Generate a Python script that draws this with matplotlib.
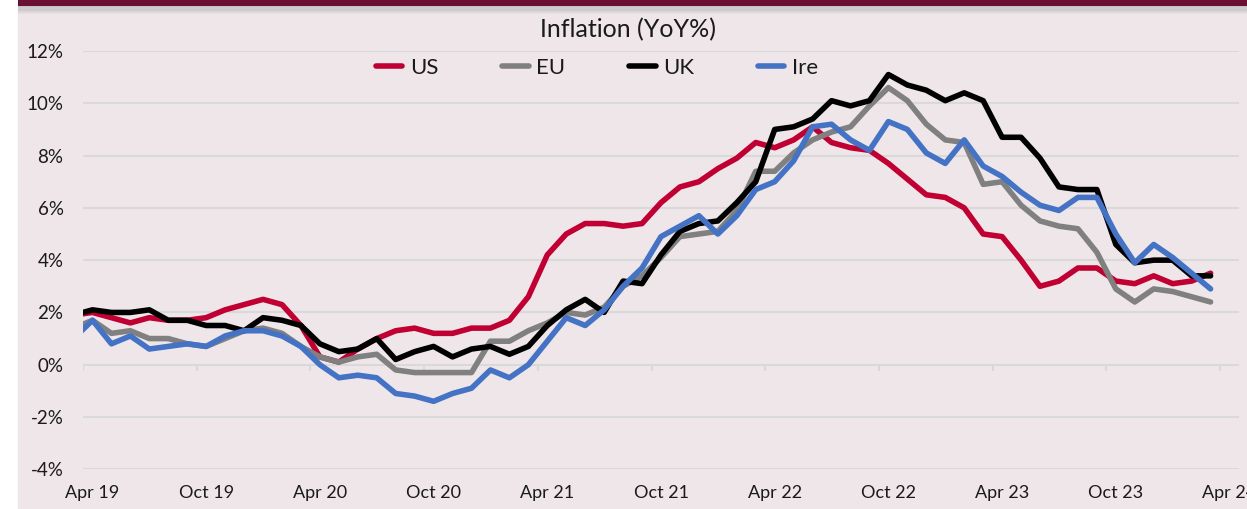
import numpy as np
import pandas as pd
import matplotlib
matplotlib.use("Agg")
import matplotlib.pyplot as plt
from matplotlib.patches import Rectangle
from matplotlib.ticker import FuncFormatter

plt.rcParams['font.family'] = ['Lato', 'DejaVu Sans']

# ---------------- data ----------------
months = pd.period_range('2019-03', '2024-03', freq='M')

us = [1.9, 2.0, 1.8, 1.6, 1.8, 1.7, 1.7, 1.8, 2.1, 2.3,
      2.5, 2.3, 1.5, 0.3, 0.1, 0.6, 1.0, 1.3, 1.4, 1.2, 1.2, 1.4,
      1.4, 1.7, 2.6, 4.2, 5.0, 5.4, 5.4, 5.3, 5.4, 6.2, 6.8, 7.0,
      7.5, 7.9, 8.5, 8.3, 8.6, 9.1, 8.5, 8.3, 8.2, 7.7, 7.1, 6.5,
      6.4, 6.0, 5.0, 4.9, 4.0, 3.0, 3.2, 3.7, 3.7, 3.2, 3.1, 3.4,
      3.1, 3.2, 3.5]

eu = [1.4, 1.7, 1.2, 1.3, 1.0, 1.0, 0.8, 0.7, 1.0, 1.3,
      1.4, 1.2, 0.7, 0.3, 0.1, 0.3, 0.4, -0.2, -0.3, -0.3, -0.3, -0.3,
      0.9, 0.9, 1.3, 1.6, 2.0, 1.9, 2.2, 3.0, 3.4, 4.1, 4.9, 5.0,
      5.1, 5.9, 7.4, 7.4, 8.1, 8.6, 8.9, 9.1, 9.9, 10.6, 10.1, 9.2,
      8.6, 8.5, 6.9, 7.0, 6.1, 5.5, 5.3, 5.2, 4.3, 2.9, 2.4, 2.9,
      2.8, 2.6, 2.4]

uk = [1.9, 2.1, 2.0, 2.0, 2.1, 1.7, 1.7, 1.5, 1.5, 1.3,
      1.8, 1.7, 1.5, 0.8, 0.5, 0.6, 1.0, 0.2, 0.5, 0.7, 0.3, 0.6,
      0.7, 0.4, 0.7, 1.5, 2.1, 2.5, 2.0, 3.2, 3.1, 4.2, 5.1, 5.4,
      5.5, 6.2, 7.0, 9.0, 9.1, 9.4, 10.1, 9.9, 10.1, 11.1, 10.7, 10.5,
      10.1, 10.4, 10.1, 8.7, 8.7, 7.9, 6.8, 6.7, 6.7, 4.6, 3.9, 4.0,
      4.0, 3.4, 3.4]

ire = [1.0, 1.7, 0.8, 1.1, 0.6, 0.7, 0.8, 0.7, 1.1, 1.3,
       1.3, 1.1, 0.7, 0.0, -0.5, -0.4, -0.5, -1.1, -1.2, -1.4, -1.1, -0.9,
       -0.2, -0.5, 0.0, 0.9, 1.8, 1.5, 2.1, 3.0, 3.7, 4.9, 5.3, 5.7,
       5.0, 5.7, 6.7, 7.0, 7.8, 9.1, 9.2, 8.6, 8.2, 9.3, 9.0, 8.1,
       7.7, 8.6, 7.6, 7.2, 6.6, 6.1, 5.9, 6.4, 6.4, 5.0, 3.9, 4.6,
       4.1, 3.5, 2.9]

series_names = ['US', 'EU', 'UK', 'Ire']
series_colors = ['#C00032', '#808080', '#000000', '#4472C4']

tick_labels = ['Apr 19', 'Oct 19', 'Apr 20', 'Oct 20', 'Apr 21', 'Oct 21',
               'Apr 22', 'Oct 22', 'Apr 23', 'Oct 23', 'Apr 24']
y_ticks = [-4, -2, 0, 2, 4, 6, 8, 10, 12]

# ---------------- figure ----------------
W, H = 1247, 509
fig = plt.figure(figsize=(W / 100, H / 100), dpi=100)
fig.patch.set_facecolor('white')
bg = '#EFE6E9'

# chart background
fig.patches.append(Rectangle((18 / W, 0), 1 - 18 / W, 1 - 9 / H,
                             transform=fig.transFigure, color=bg, zorder=-10))
# shadow under the banner
for i in range(8):
    a = 0.35 * (1 - i / 8)
    fig.patches.append(Rectangle((18 / W, 1 - (6 + i + 1) / H), 1 - 18 / W, 1 / H,
                                 transform=fig.transFigure, color='#555555',
                                 alpha=a, lw=0, zorder=-9))
# banner
fig.patches.append(Rectangle((18 / W, 1 - 6 / H), 1 - 18 / W, 6 / H,
                             transform=fig.transFigure, color='#6B0F32', lw=0, zorder=-8))

ax = fig.add_axes([83 / W, 1 - 469.3 / H, (1239 - 83) / W, (469.3 - 51) / H])
ax.set_facecolor('none')

start = pd.Period('2019-04', freq='M')
x = np.array([(m - start).n for m in months]) + 0.5

for name, vals, col in zip(series_names, [us, eu, uk, ire], series_colors):
    ax.plot(x, vals, color=col, lw=4.0, solid_joinstyle='round',
            solid_capstyle='round', label=name)

ax.set_xlim(0, 61)
ax.set_ylim(-4, 12)
ax.set_yticks(y_ticks)
ax.yaxis.set_major_formatter(FuncFormatter(lambda v, p: f'{v:.0f}%'))
ax.grid(axis='y', color='#D9D9D9', lw=1.5)
ax.set_axisbelow(True)
for s in ax.spines.values():
    s.set_visible(False)

tick_pos = np.arange(0, 61, 6)
ax.set_xticks(tick_pos + 0.5, tick_labels)
ax.vlines(tick_pos, -0.25, 0, color='#D9D9D9', lw=1.5, zorder=0)
ax.tick_params(axis='y', length=0, pad=14, labelsize=13.5, labelcolor='#1a1a1a')
ax.tick_params(axis='x', length=0, pad=11, labelsize=13, labelcolor='#1a1a1a')

fig.text(628 / W, 1 - 30 / H, 'Inflation (YoY%)', ha='center', va='center',
         fontsize=18, color='#1a1a1a')

handles, labels = ax.get_legend_handles_labels()
leg = fig.legend(handles, labels, loc='center', bbox_to_anchor=(597 / W, 1 - 68 / H),
                 ncol=4, frameon=False, fontsize=16, handlelength=1.2,
                 handletextpad=0.35, columnspacing=2.85, labelcolor='#1a1a1a')

fig.savefig('out.png', dpi=100, facecolor=fig.get_facecolor())
